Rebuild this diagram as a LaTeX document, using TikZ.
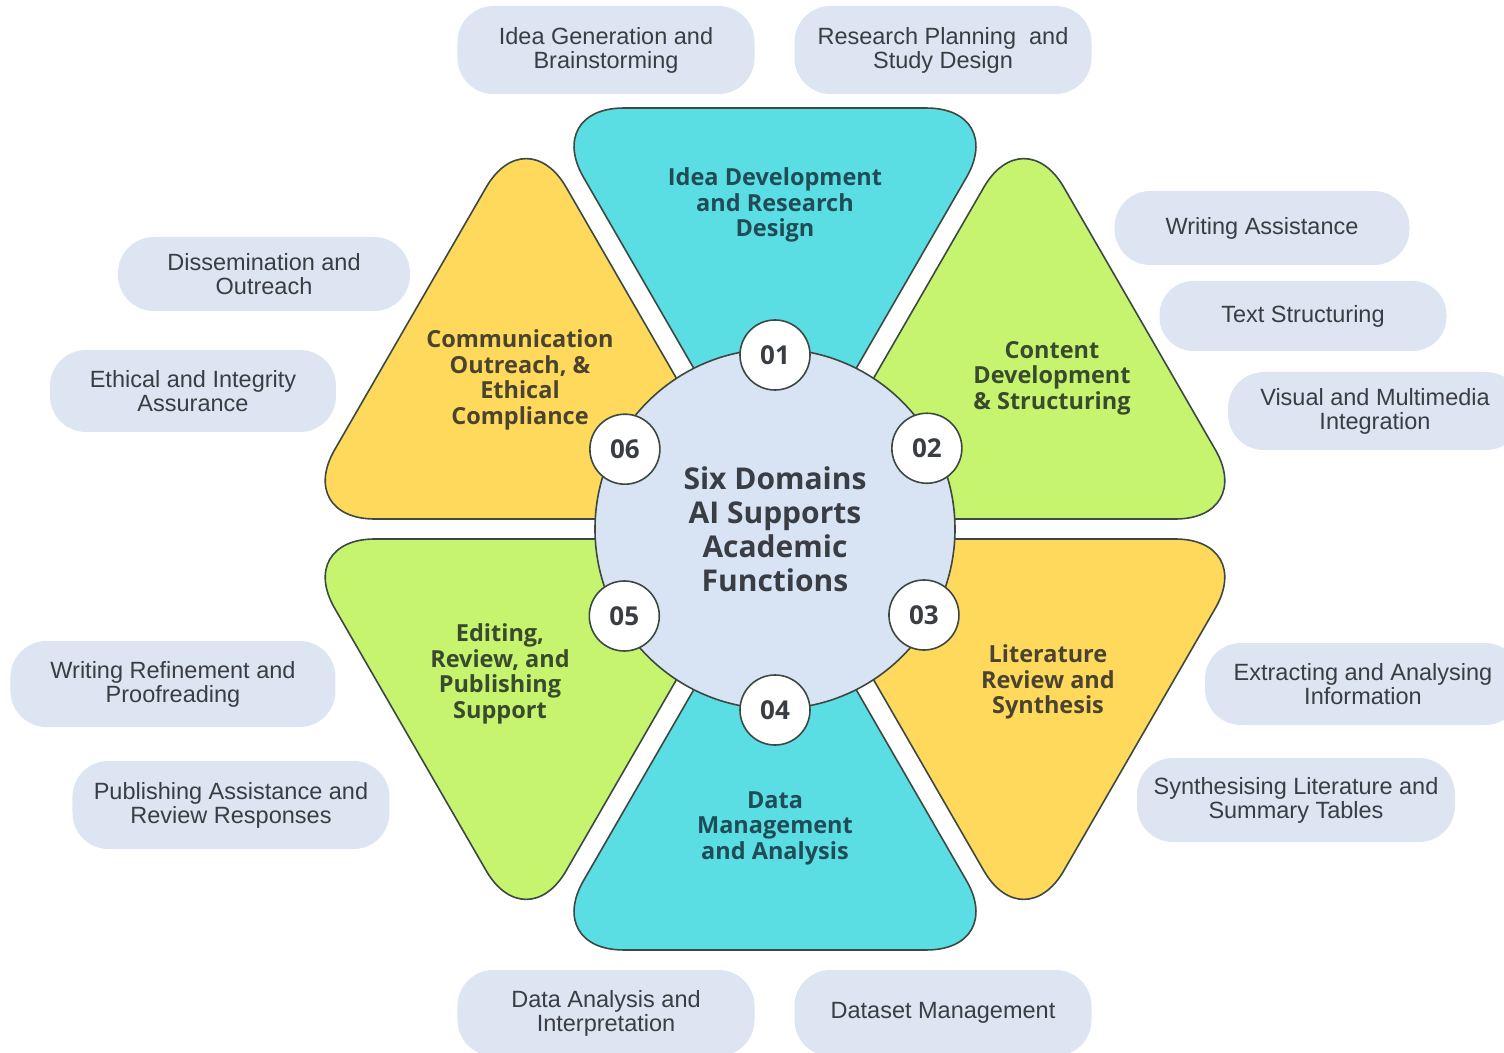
\documentclass[tikz,border=0pt]{standalone}
\usepackage{fontspec}
\setmainfont{Open Sans}
\newfontfamily\pillfont{Liberation Sans}
\usepackage{tikz}
\usetikzlibrary{calc}

\definecolor{cyanfill}{HTML}{5BDEE3}
\definecolor{limefill}{HTML}{C6F46F}
\definecolor{sunfill}{HTML}{FFD95C}
\definecolor{hubfill}{HTML}{D8E4F4}
\definecolor{pillfill}{HTML}{DCE5F1}
\definecolor{inkdark}{HTML}{3A3E44}
\definecolor{edgedark}{HTML}{3C4842}
\definecolor{cyanink}{HTML}{1F4C56}
\definecolor{limeink}{HTML}{3A4A2E}
\definecolor{sunink}{HTML}{4A4330}

\tikzset{
  wedge/.style={draw=edgedark, line width=1.6pt, rounded corners=80pt, line join=round},
  pill/.style={fill=pillfill, rounded corners=36pt, inner sep=0pt, align=center,
    text=inkdark, font=\pillfont\fontsize{23.5}{24}\selectfont},
  domainlabel/.style={align=center, font=\bfseries\fontsize{23.5}{25.5}\selectfont},
  numdisc/.style={circle, draw=edgedark, line width=1.6pt, fill=white, minimum size=70pt,
    inner sep=0pt, text=inkdark, font=\bfseries\fontsize{26}{26}\selectfont}
}

\begin{document}
\begin{tikzpicture}[x=1pt,y=1pt]
        \useasboundingbox (-775,-523) rectangle (729,529);
        % six wedges round the hub
        \foreach \k/\col in {0/limefill,1/cyanfill,2/sunfill,3/limefill,4/cyanfill,5/sunfill}{
          \begin{scope}[shift={(\k*60+30:20)}]
          \draw[wedge, fill=\col] (0,0) -- (\k*60:463) -- (\k*60+60:463) -- cycle;
          \end{scope}
        }
        \node[circle, draw=edgedark, line width=1.6pt, fill=hubfill, minimum size=360pt] (hub) at (0,0) {};
        \node[align=center, text=inkdark, font=\bfseries\fontsize{30}{34}\selectfont] (title) at (0,0)
          {Six Domains\\AI Supports\\Academic\\Functions};
        \node[numdisc] (n1) at (90:174) {01};
        \node[numdisc] (n2) at (28:172) {02};
        \node[numdisc] (n3) at (-30:172) {03};
        \node[numdisc] (n4) at (-90:181) {04};
        \node[numdisc] (n5) at (210:174) {05};
        \node[numdisc] (n6) at (152:170) {06};
        % domain names
        \node[domainlabel, text=cyanink] (d1) at (0,324) {Idea Development\\and Research\\Design};
        \node[domainlabel, text=limeink] (d2) at (277,151) {Content\\Development\\\& Structuring};
        \node[domainlabel, text=sunink] (d3) at (273,-153) {Literature\\Review and\\Synthesis};
        \node[domainlabel, text=cyanink] (d4) at (0,-299) {Data\\Management\\and Analysis};
        \node[domainlabel, text=limeink] (d5) at (-275,-145) {Editing,\\Review, and\\Publishing\\Support};
        \node[domainlabel, text=sunink] (d6) at (-255,149) {Communication\\Outreach, \&\\Ethical\\Compliance};
        % sub-functions
        \node[pill, minimum width=297pt, minimum height=88pt] (p1a) at (-169,479) {Idea Generation and\\Brainstorming};
        \node[pill, minimum width=297pt, minimum height=88pt] (p1b) at (168,479) {Research Planning\ \ and\\Study Design};
        \node[pill, minimum width=295pt, minimum height=74pt] (p2a) at (487,301) {Writing Assistance};
        \node[pill, minimum width=287pt, minimum height=70pt, rounded corners=34pt] (p2b) at (528,213) {Text Structuring};
        \node[pill, minimum width=294pt, minimum height=78pt] (p2c) at (600,118) {Visual and Multimedia\\Integration};
        \node[pill, minimum width=316pt, minimum height=82pt] (p3a) at (588,-155) {Extracting and Analysing\\Information};
        \node[pill, minimum width=318pt, minimum height=84pt] (p3b) at (521,-271) {Synthesising Literature and\\Summary Tables};
        \node[pill, minimum width=297pt, minimum height=86pt] (p4a) at (168,-484) {Dataset Management};
        \node[pill, minimum width=297pt, minimum height=86pt] (p4b) at (-169,-484) {Data Analysis and\\Interpretation};
        \node[pill, minimum width=317pt, minimum height=88pt] (p5a) at (-544,-276) {Publishing Assistance and\\Review Responses};
        \node[pill, minimum width=325pt, minimum height=86pt] (p5b) at (-602,-155) {Writing Refinement and\\Proofreading};
        \node[pill, minimum width=286pt, minimum height=82pt] (p6a) at (-582,138) {Ethical and Integrity\\Assurance};
        \node[pill, minimum width=292pt, minimum height=74pt] (p6b) at (-511,255) {Dissemination and\\Outreach};
\end{tikzpicture}
\end{document}
